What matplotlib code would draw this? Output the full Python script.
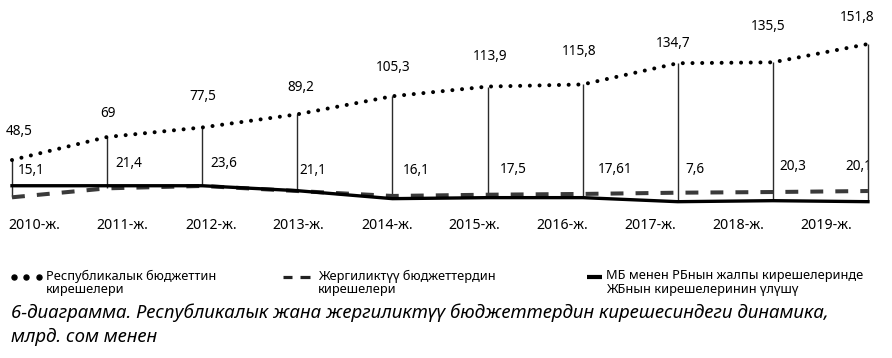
import numpy as np
from matplotlib import pyplot as plt

plt.rcParams['font.family'] = ['Noto Sans', 'DejaVu Sans']

# data
years = ["2010-ж.", "2011-ж.", "2012-ж.", "2013-ж.", "2014-ж.",
         "2015-ж.", "2016-ж.", "2017-ж.", "2018-ж.", "2019-ж."]
rep_budget = [48.5, 69, 77.5, 89.2, 105.3, 113.9, 115.8, 134.7, 135.5, 151.8]
loc_budget = [15.3, 23.3, 25.4, 20.9, 16.5, 17.6, 18.3, 19.4, 20.0, 20.9]
share_line = [25.6, 25.6, 25.6, 21.2, 14.1, 15.0, 15.0, 11.4, 12.3, 11.4]
share_labels = ["15,1", "21,4", "23,6", "21,1", "16,1",
                "17,5", "17,61", "7,6", "20,3", "20,1"]

# label offsets in pixels (layout only)
top_dx = [7, 1, 1, 4, 1, 3, -3, -5, -5, -11]
top_dy = [29, 24, 31, 27, 29, 30, 33, 20, 36, 27]
shr_dx = [6, 8, 8, 2, 10, 12, 15, 8, 7, -23]
shr_dy = [43.5, 50.5, 50.5, 43.5, 43.5, 44.5, 44.5, 44.5, 47.5, 47.5]


def main():
    fig = plt.figure(figsize=(8.92, 3.58), dpi=100)
    ax = fig.add_axes([0, 0, 1, 1])
    ax.set_xlim(-0.126, 9.253)
    ax.set_ylim(-127.8, 191.0)
    ax.axis('off')

    x = np.arange(len(years))

    # vertical drop lines
    low = np.minimum(share_line, loc_budget)
    ax.vlines(x, low, rep_budget, color='#2b2b2b', lw=1.0, zorder=2)

    rep_line, = ax.plot(x, rep_budget, color='black', lw=2.9, zorder=4)
    rep_line.set_dashes((0.01, 2.4))
    rep_line.set_dash_capstyle('round')

    loc_line, = ax.plot(x, loc_budget, color='#3a3a3a', lw=2.9, zorder=3)
    loc_line.set_dashes((3.2, 3.0))

    ax.plot(x, share_line, color='black', lw=2.4, zorder=3)

    for i, v in enumerate(rep_budget):
        ax.annotate(f"{v:g}".replace('.', ','), (x[i], v),
                    xytext=(top_dx[i], top_dy[i]), textcoords='offset pixels',
                    ha='center', va='center', fontsize=9.8)

    for i, lbl in enumerate(share_labels):
        ax.annotate(lbl, (x[i], 0), xytext=(shr_dx[i], shr_dy[i]),
                    textcoords='offset pixels', ha='left', va='center',
                    fontsize=9.8, zorder=1)

    year_pos = x * 0.925 + 0.24
    for p, y in zip(year_pos, years):
        ax.text(p, -10.2, y, ha='center', va='center', fontsize=10.2)

    # legend and caption, laid out in pixel units
    lax = fig.add_axes([0, 0, 1, 1], facecolor='none')
    lax.set_xlim(0, 892)
    lax.set_ylim(358, 0)
    lax.axis('off')

    lax.plot([14, 26, 39], [277, 277, 277], 'o', ms=3.6, color='black')
    lax.plot([283, 292], [277, 277], color='#222222', lw=2.3, solid_capstyle='butt')
    lax.plot([300, 310], [277, 277], color='#222222', lw=2.3, solid_capstyle='butt')
    lax.plot([587, 602], [277, 277], color='black', lw=3.0, solid_capstyle='butt')

    leg_kw = dict(va='center', ha='left', fontsize=9.2)
    lax.text(46, 276, "Республикалык бюджеттин", **leg_kw)
    lax.text(46, 290, "кирешелери", **leg_kw)
    lax.text(318, 276, "Жергиликтүү бюджеттердин", **leg_kw)
    lax.text(318, 290, "кирешелери", **leg_kw)
    lax.text(606, 276, "МБ менен РБнын жалпы кирешелеринде", **leg_kw)
    lax.text(606, 290, "ЖБнын кирешелеринин үлүшү", **leg_kw)

    cap_kw = dict(va='center', ha='left', fontsize=13.4, style='italic')
    lax.text(11, 313, "6-диаграмма. Республикалык жана жергиликтүү "
             "бюджеттердин кирешесиндеги динамика,", **cap_kw)
    lax.text(11, 337, "млрд. сом менен", **cap_kw)

    plt.savefig('out.png', dpi=100)


if __name__ == "__main__":
    main()
